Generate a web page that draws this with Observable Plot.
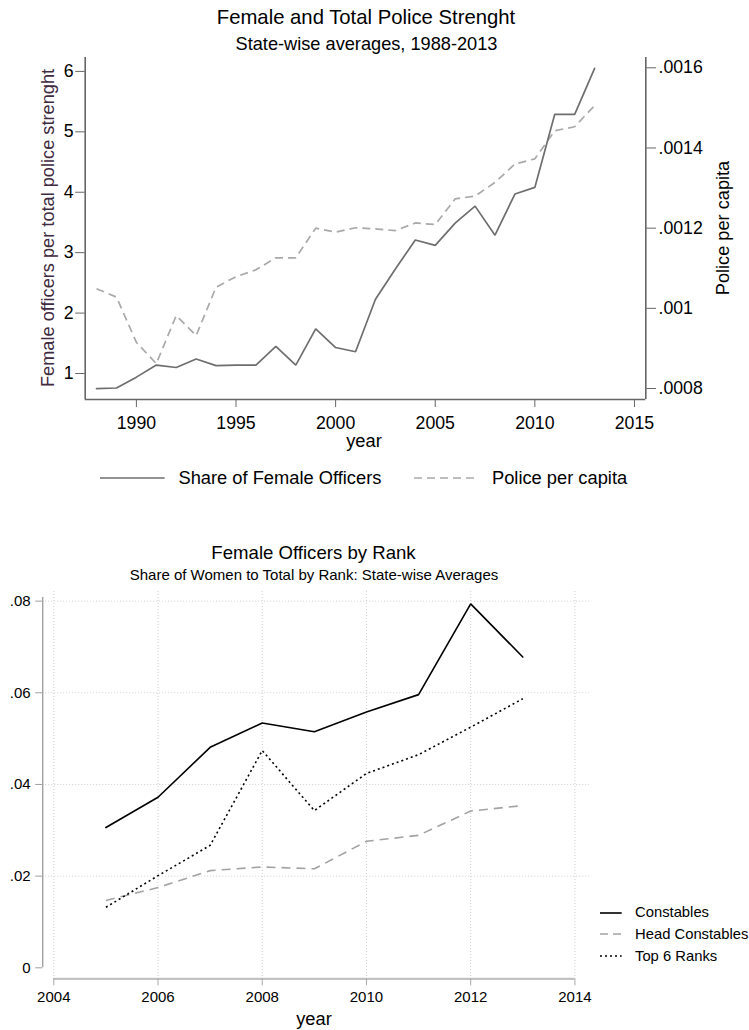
<!DOCTYPE html>
<html><head><meta charset="utf-8">
<script src="https://cdn.jsdelivr.net/npm/d3@7"></script>
<script src="https://cdn.jsdelivr.net/npm/@observablehq/plot@0.6"></script>
<style>
body{margin:0;background:#fff;font-family:"Liberation Sans",Arial,sans-serif;color:#000}
#wrap{position:relative;width:749px;height:1030px;overflow:hidden;background:#fff}
.abs{position:absolute;white-space:nowrap;line-height:1}
.c{transform:translateX(-50%)}
.rot{transform:translate(-50%,-50%) rotate(-90deg)}
#wrap svg.chart{position:absolute;left:0}
.leg{position:absolute;display:flex;align-items:center;white-space:nowrap;line-height:1}
.leg svg{display:block;margin-right:0}
</style></head><body><div id="wrap"></div>
<script>
// ---------- data: top chart ----------
const years = [1988,1989,1990,1991,1992,1993,1994,1995,1996,1997,1998,1999,2000,2001,2002,2003,2004,2005,2006,2007,2008,2009,2010,2011,2012,2013];
const femaleShare = [0.75,0.76,0.94,1.14,1.10,1.24,1.13,1.14,1.14,1.45,1.14,1.74,1.43,1.36,2.23,2.73,3.21,3.12,3.49,3.77,3.29,3.97,4.08,5.29,5.29,6.05];
const policePerCapita = [0.001049,0.001028,0.000915,0.000862,0.000982,0.000932,0.001053,0.001079,0.001096,0.001126,0.001126,0.001200,0.001190,0.001201,0.001198,0.001194,0.001213,0.001209,0.001273,0.001280,0.001314,0.001360,0.001373,0.001443,0.001453,0.001506];
const topXTicks = [1990,1995,2000,2005,2010,2015];
const topLeftTicks = [1,2,3,4,5,6];
const topRightTicks = [0.0008,0.001,0.0012,0.0014,0.0016];

// ---------- data: bottom chart ----------
const rankYears = [2005,2006,2007,2008,2009,2010,2011,2012,2013];
const constables = [0.0306,0.0372,0.0481,0.0534,0.0515,0.0558,0.0596,0.0794,0.0678];
const headConstables = [0.0147,0.0175,0.0212,0.0220,0.0216,0.0276,0.0289,0.0342,0.0354];
const top6Ranks = [0.0132,0.0201,0.0267,0.0474,0.0343,0.0424,0.0465,0.0525,0.0587];
const botXTicks = [2004,2006,2008,2010,2012,2014];
const botYTicks = [0,0.02,0.04,0.06,0.08];

const FONT = '"Liberation Sans", Arial, sans-serif';
const wrap = document.getElementById("wrap");

// ---------- top chart ----------
const xExtTop = [1987.43, 2015.57];
const yExtLeft = [0.57, 6.23];
const yExtRight = [0.0007726, 0.0016257];
const toLeft = d3.scaleLinear().domain(yExtRight).range(yExtLeft);
const topRows = years.map((y, i) => ({year: y, share: femaleShare[i], police: policePerCapita[i]}));
const AX = "#666";
const fmtRight = v => d3.format(".4~f")(v).replace(/^0/, "");

const topChart = Plot.plot({
  width: 749, height: 460,
  marginLeft: 84.7, marginRight: 103.7, marginTop: 57, marginBottom: 61,
  style: {fontFamily: FONT, fontSize: "17.7px", background: "transparent", color: "#000", overflow: "visible"},
  x: {domain: xExtTop, label: null},
  y: {domain: yExtLeft, label: null},
  marks: [
    Plot.ruleX(xExtTop, {stroke: AX, strokeWidth: 1.6}),
    Plot.ruleY([yExtLeft[0]], {stroke: AX, strokeWidth: 1.6}),
    Plot.axisX(topXTicks, {anchor: "bottom", tickSize: 8, tickPadding: 9, stroke: AX, fill: "#000", label: null, tickFormat: d => String(d)}),
    Plot.axisY(topLeftTicks, {anchor: "left", tickSize: 9.5, tickPadding: 2, stroke: AX, fill: "#000", label: null, tickFormat: d => String(d)}),
    Plot.axisY(topRightTicks.map(toLeft), {anchor: "right", tickSize: 9.7, tickPadding: 3, stroke: AX, fill: "#000", label: null, tickFormat: d => fmtRight(toLeft.invert(d))}),
    Plot.line(topRows, {x: "year", y: d => toLeft(d.police), stroke: "#a9a9a9", strokeWidth: 1.7, strokeDasharray: "8,5", strokeLinecap: "butt", strokeLinejoin: "miter"}),
    Plot.line(topRows, {x: "year", y: "share", stroke: "#6e6e6e", strokeWidth: 1.7, strokeLinejoin: "miter"})
  ]
});
topChart.classList.add("chart");
topChart.style.top = "0px";
wrap.appendChild(topChart);

// ---------- bottom chart ----------
const xExtBot = [2003.787, 2014.28];
const yExtBot = [-0.0024, 0.0821];
const rows = rankYears.map((y, i) => ({year: y, c: constables[i], h: headConstables[i], t: top6Ranks[i]}));
const GRID = "#cfcfcf";
const fmtBot = d => d === 0 ? "0" : d3.format(".2f")(d).replace(/^0/, "");

const botChart = Plot.plot({
  width: 749, height: 445,
  marginLeft: 42.2, marginRight: 160, marginTop: 6, marginBottom: 51.7,
  style: {fontFamily: FONT, fontSize: "15px", background: "transparent", color: "#000", overflow: "visible"},
  x: {domain: xExtBot, label: null},
  y: {domain: yExtBot, label: null},
  marks: [
    Plot.ruleY(botYTicks.filter(d => d > 0), {stroke: GRID, strokeWidth: 1, strokeDasharray: "1,2"}),
    Plot.ruleX(botXTicks, {stroke: GRID, strokeWidth: 1, strokeDasharray: "1,2"}),
    Plot.ruleX([xExtBot[0]], {y1: 0, y2: 0.0808, stroke: "#a0a0a0", strokeWidth: 1.4}),
    Plot.ruleY([yExtBot[0]], {x1: botXTicks[0], x2: botXTicks[botXTicks.length - 1], stroke: "#c2c2c2", strokeWidth: 2.2}),
    Plot.axisX(botXTicks, {anchor: "bottom", tickSize: 7, tickPadding: 5.4, stroke: "#a8a8a8", fill: "#000", label: null, tickFormat: d => String(d)}),
    Plot.axisY(botYTicks, {anchor: "left", tickSize: 7, tickPadding: 5, stroke: "#a0a0a0", fill: "#000", label: null, tickFormat: fmtBot}),
    Plot.line(rows, {x: "year", y: "h", stroke: "#a3a3a3", strokeWidth: 1.6, strokeDasharray: "9,6", strokeLinecap: "butt", strokeLinejoin: "miter"}),
    Plot.line(rows, {x: "year", y: "t", stroke: "#000", strokeWidth: 1.6, strokeDasharray: "2,3", strokeLinecap: "butt", strokeLinejoin: "miter"}),
    Plot.line(rows, {x: "year", y: "c", stroke: "#000", strokeWidth: 1.6, strokeLinejoin: "miter"})
  ]
});
botChart.classList.add("chart");
botChart.style.top = "585px";
wrap.appendChild(botChart);

// ---------- text & legends ----------
function addText(txt, left, topPx, size, cls, color) {
  const d = document.createElement("div");
  d.className = "abs " + (cls || "");
  d.textContent = txt;
  d.style.left = left + "px";
  d.style.top = topPx + "px";
  d.style.fontSize = size + "px";
  if (color) d.style.color = color;
  wrap.appendChild(d);
  return d;
}
function base(baseline, size) { return baseline - 0.8465 * size; }

addText("Female and Total Police Strenght", 366, base(24, 20.3), 20.3, "c");
addText("State-wise averages, 1988-2013", 366.5, base(50, 18.2), 18.2, "c");
addText("year", 364, base(447, 18.3), 18.3, "c");
addText("Female officers per total police strenght", 48, 228, 18.2, "rot", "#402a40");
addText("Police per capita", 723, 228, 18.2, "rot");

addText("Female Officers by Rank", 313.5, base(559.3, 18.6), 18.6, "c");
addText("Share of Women to Total by Rank: State-wise Averages", 314, base(580, 15), 15, "c");
addText("year", 314, base(1025, 18.3), 18.3, "c");

function addLegend(label, x, yLine, lineLen, gap, stroke, dash, width, size) {
  const div = document.createElement("div");
  div.className = "leg";
  div.style.left = x + "px";
  div.style.top = (yLine - 10) + "px";
  div.style.height = "20px";
  div.style.fontSize = size + "px";
  const ns = "http://www.w3.org/2000/svg";
  const s = document.createElementNS(ns, "svg");
  s.setAttribute("width", lineLen);
  s.setAttribute("height", 20);
  const l = document.createElementNS(ns, "line");
  l.setAttribute("x1", 0); l.setAttribute("x2", lineLen);
  l.setAttribute("y1", 10); l.setAttribute("y2", 10);
  l.setAttribute("stroke", stroke);
  l.setAttribute("stroke-width", width);
  if (dash) l.setAttribute("stroke-dasharray", dash);
  s.appendChild(l);
  div.appendChild(s);
  const t = document.createElement("span");
  t.textContent = label;
  t.style.marginLeft = gap + "px";
  div.appendChild(t);
  wrap.appendChild(div);
}
addLegend("Share of Female Officers", 100.4, 478.3, 64.6, 13.5, "#6e6e6e", null, 1.7, 18.3);
addLegend("Police per capita", 413.5, 478.3, 64.5, 14, "#a9a9a9", "8,5", 1.7, 18.3);

addLegend("Constables", 600, 912.7, 21.7, 13.3, "#000", null, 1.6, 14.8);
addLegend("Head Constables", 600, 934.3, 21.7, 13.3, "#a3a3a3", "8,5", 1.6, 14.8);
addLegend("Top 6 Ranks", 600, 956, 21.7, 13.3, "#000", "2,3", 1.6, 14.8);
</script>
</body></html>
